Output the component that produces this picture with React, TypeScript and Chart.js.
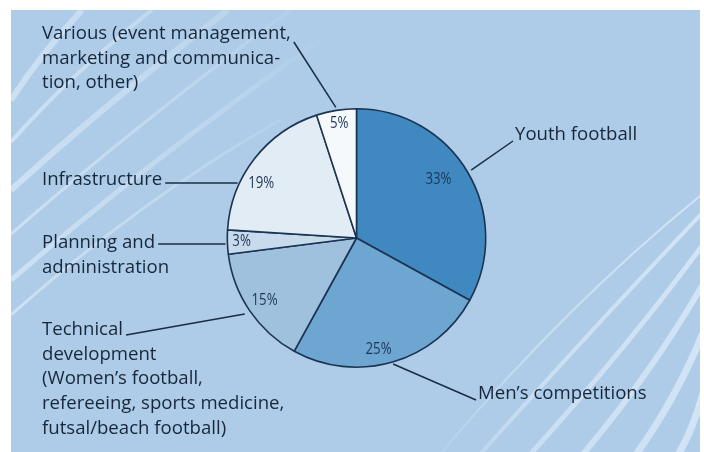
import React, { useEffect, useRef } from "react";
import { Chart, registerables } from "chart.js";

Chart.register(...registerables);

// ---- data ----
const categories = [
  "Youth football",
  "Men's competitions",
  "Technical development",
  "Planning and administration",
  "Infrastructure",
  "Various",
];
const shares = [33, 25, 15, 3, 19, 5];
const valueLabels = ["33%", "25%", "15%", "3%", "19%", "5%"];
const labelTexts: string[][] = [
  ["Youth football"],
  ["Men\u2019s competitions"],
  [
    "Technical",
    "development",
    "(Women\u2019s football,",
    "refereeing, sports medicine,",
    "futsal/beach football)",
  ],
  ["Planning and", "administration"],
  ["Infrastructure"],
  ["Various (event management,", "marketing and communica-", "tion, other)"],
];
const sliceColors = ["#3f88c0", "#6ea6d2", "#9fc1de", "#c7dbec", "#e1ecf5", "#f6f9fc"];

// ---- layout (positions / styles) ----
const W = 704;
const H = 452;
const BG = "#aecce8";
const TEXT = "#16273b";
const EDGE = "#1c3452";
const LINE_H = 24.6;
const LABEL_FONT = "18.6px 'Open Sans', 'Noto Sans', sans-serif";
const PCT_FONT = "17px 'Open Sans', 'Noto Sans', sans-serif";
const labelLayout = [
  { x: 515, y: 135, side: "right", mode: "mid", r: 4 },
  { x: 478, y: 394, side: "right", mode: "mid", r: 2 },
  { x: 42, y: 330, side: "left", mode: "mid", r: 6, dy: 5 },
  { x: 42, y: 243, side: "left", mode: "horiz", dy: 1 },
  { x: 42, y: 180, side: "left", mode: "horiz", dy: 3 },
  { x: 42, y: 34, side: "left", mode: "mid", r: 3, dy: 8 },
];
const pctLayout = [
  { f: 0.78, da: -5 },
  { f: 0.88, da: 5 },
  { f: 0.86, da: 0 },
  { f: 0.89, da: 0 },
  { f: 0.85, da: -8 },
  { f: 0.9, da: 0.5 },
];

type Stroke = [number, number, number, number, number, number, number];
const upperLeftStripes: Stroke[] = [
  [11, 100, 40, 55, 82, 10, 6],
  [11, 142, 70, 75, 152, 10, 4],
  [11, 190, 110, 100, 228, 10, 6],
  [11, 234, 130, 130, 290, 10, 3],
  [11, 280, 150, 160, 320, 40, 5],
  [11, 315, 140, 200, 280, 120, 3],
];
const lowerRightStripes: Stroke[] = [
  [435, 460, 570, 300, 710, 188, 2],
  [475, 460, 600, 320, 710, 205, 4],
  [525, 460, 630, 345, 710, 235, 5],
  [578, 460, 655, 370, 710, 272, 6],
  [632, 460, 680, 395, 710, 315, 7],
  [675, 460, 700, 420, 710, 360, 7],
];

const backgroundPlugin = {
  id: "bgStripes",
  beforeDraw(chart: any) {
    const ctx = chart.ctx as CanvasRenderingContext2D;
    ctx.save();
    ctx.fillStyle = "#ffffff";
    ctx.fillRect(0, 0, W, H);
    ctx.fillStyle = BG;
    ctx.fillRect(11, 10, 689, 442);
    ctx.beginPath();
    ctx.rect(11, 10, 689, 442);
    ctx.clip();
    ctx.lineCap = "butt";
    const g1 = ctx.createLinearGradient(11, 0, 330, 0);
    g1.addColorStop(0, "rgba(225,238,250,0.6)");
    g1.addColorStop(0.6, "rgba(225,238,250,0.3)");
    g1.addColorStop(1, "rgba(225,238,250,0)");
    ctx.strokeStyle = g1;
    for (const [x0, y0, cx, cy, x1, y1, w] of upperLeftStripes) {
      ctx.lineWidth = w;
      ctx.beginPath();
      ctx.moveTo(x0, y0);
      ctx.quadraticCurveTo(cx, cy, x1, y1);
      ctx.stroke();
    }
    const g2 = ctx.createLinearGradient(430, 0, 704, 0);
    g2.addColorStop(0, "rgba(225,238,250,0.1)");
    g2.addColorStop(0.4, "rgba(225,238,250,0.55)");
    g2.addColorStop(1, "rgba(225,238,250,0.7)");
    ctx.strokeStyle = g2;
    for (const [x0, y0, cx, cy, x1, y1, w] of lowerRightStripes) {
      ctx.lineWidth = w;
      ctx.beginPath();
      ctx.moveTo(x0, y0);
      ctx.quadraticCurveTo(cx, cy, x1, y1);
      ctx.stroke();
    }
    ctx.restore();
  },
};

const labelPlugin = {
  id: "calloutLabels",
  afterDatasetsDraw(chart: any) {
    const ctx = chart.ctx as CanvasRenderingContext2D;
    const meta = chart.getDatasetMeta(0);
    ctx.save();
    meta.data.forEach((arc: any, i: number) => {
      const { x, y, startAngle, endAngle, outerRadius } = arc.getProps(
        ["x", "y", "startAngle", "endAngle", "outerRadius"],
        true
      );
      const mid = (startAngle + endAngle) / 2;
      const p = pctLayout[i];
      const a = mid + (p.da * Math.PI) / 180;
      const px = x + Math.cos(a) * outerRadius * p.f;
      const py = y + Math.sin(a) * outerRadius * p.f;
      ctx.save();
      ctx.font = PCT_FONT;
      ctx.fillStyle = "#1d3656";
      ctx.textAlign = "center";
      ctx.textBaseline = "middle";
      ctx.translate(px, py);
      ctx.scale(0.78, 1);
      ctx.fillText(valueLabels[i], 0, 0);
      ctx.restore();

      const L = labelLayout[i];
      const lines = labelTexts[i];
      ctx.font = LABEL_FONT;
      ctx.fillStyle = TEXT;
      ctx.textAlign = "left";
      ctx.textBaseline = "middle";
      lines.forEach((t, k) => ctx.fillText(t, L.x, L.y + k * LINE_H));

      let sx: number, sy: number, ex: number, ey: number;
      if (L.side === "right") {
        sx = L.x - 2;
        sy = L.y + 6;
      } else {
        sx = L.x + ctx.measureText(lines[0]).width + 3;
        sy = L.y + (L.dy || 0);
      }
      if (L.mode === "mid") {
        const rr = outerRadius + (L.r || 0);
        ex = x + Math.cos(mid) * rr;
        ey = y + Math.sin(mid) * rr;
      } else {
        ey = sy;
        const d = ey - y;
        ex = x - Math.sqrt(Math.max(outerRadius * outerRadius - d * d, 0)) - 2;
      }
      ctx.strokeStyle = "#1a2c44";
      ctx.lineWidth = 1.5;
      ctx.beginPath();
      ctx.moveTo(sx, sy);
      ctx.lineTo(ex, ey);
      ctx.stroke();
    });
    ctx.restore();
  },
};

export default function App() {
  const ref = useRef<HTMLCanvasElement | null>(null);
  useEffect(() => {
    if (!ref.current) return;
    const chart = new Chart(ref.current, {
      type: "pie",
      data: {
        labels: categories,
        datasets: [
          {
            data: shares,
            backgroundColor: sliceColors,
            borderColor: EDGE,
            borderWidth: 1.6,
          },
        ],
      },
      options: {
        responsive: false,
        animation: false,
        events: [],
        layout: { padding: { left: 226, right: 217, top: 108, bottom: 84 } },
        plugins: {
          legend: { display: false },
          tooltip: { enabled: false },
        },
      },
      plugins: [backgroundPlugin, labelPlugin],
    });
    return () => chart.destroy();
  }, []);
  return (
    <div style={{ position: "fixed", left: 0, top: 0, width: W, height: H }}>
      <canvas ref={ref} width={W} height={H} style={{ display: "block" }} />
    </div>
  );
}
